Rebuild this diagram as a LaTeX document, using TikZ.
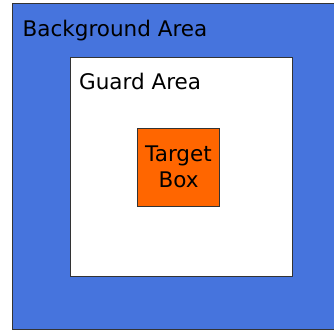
\documentclass[tikz,border=0pt]{standalone}
\usepackage{fontspec}
\setmainfont{DejaVu Sans}
\usetikzlibrary{positioning}
\definecolor{bgblue}{RGB}{70,116,221}
\definecolor{boxorange}{RGB}{255,102,0}
\tikzset{
    area/.style = {rectangle, draw=black!80, line width=1pt, inner sep=0pt, anchor=north west},
    areatext/.style = {anchor=base west, inner sep=0pt, font=\fontsize{21.5}{26}\selectfont}
}

\begin{document}
\begin{tikzpicture}[x=1pt, y=-1pt]
\useasboundingbox (0,0) rectangle (334,331);

\node (background) [area, fill=bgblue, minimum width=326pt, minimum height=326pt] at (12,3) {};
\node (guard) [area, fill=white, minimum width=222pt, minimum height=219pt] at (70,57) {};
\node (target) [area, fill=boxorange, minimum width=82pt, minimum height=78pt] at (137,128) {};

\node (bglabel) [areatext] at (22.5,36.5) {Background Area};
\node (guardlabel) [areatext] at (79,90) {Guard Area};
\node (targetlabel) [font=\fontsize{21.5}{26}\selectfont, align=center, inner sep=0pt] at ([yshift=1pt]target.center) {Target\\Box};
\end{tikzpicture}
\end{document}
